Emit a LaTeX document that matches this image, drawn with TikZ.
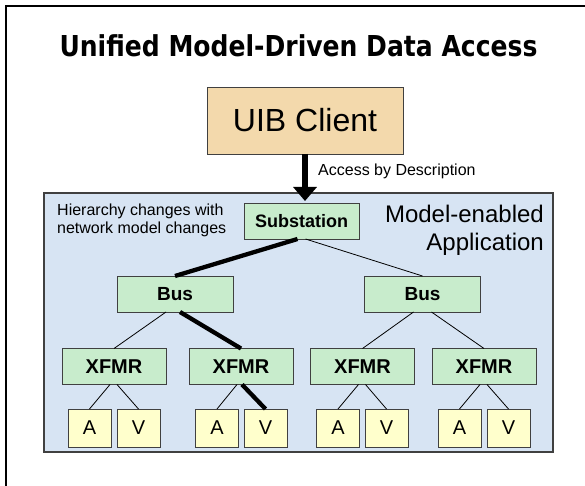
\documentclass[tikz,border=0pt]{standalone}
\usepackage{fontspec}
\usepackage{graphicx}
\setmainfont{Liberation Sans}
\newfontfamily\headfont{DejaVu Sans}
\usetikzlibrary{arrows.meta}

\definecolor{clientfill}{RGB}{243,217,172}
\definecolor{appfill}{RGB}{215,228,243}
\definecolor{nodefill}{RGB}{200,236,204}
\definecolor{leaffill}{RGB}{255,255,204}
\definecolor{edgegray}{RGB}{64,64,64}

\tikzset{
  frame/.style={line width=2.6pt, draw=black},
  box/.style={draw=edgegray, line width=0.9pt, inner sep=0pt, outer sep=0pt},
  clientbox/.style={box, fill=clientfill, minimum width=196pt, minimum height=67pt,
    font=\fontsize{32}{36}\selectfont},
  appbox/.style={box, line width=1.2pt, fill=appfill, minimum width=509pt, minimum height=259pt},
  gridbox/.style={box, fill=nodefill, minimum height=36pt, font=\bfseries},
  leafbox/.style={box, fill=leaffill, minimum width=43pt, minimum height=38pt,
    font=\fontsize{20}{24}\selectfont},
  thinlink/.style={draw=black, line width=0.8pt},
  thicklink/.style={draw=black, line width=4.3pt},
  note/.style={inner sep=0pt, font=\fontsize{16}{18}\selectfont},
  bignote/.style={inner sep=0pt, font=\fontsize{24}{28}\selectfont},
}

\begin{document}
\begin{tikzpicture}[x=1pt,y=-1pt]
\useasboundingbox (0,0) rectangle (585,486);
\clip (0,0) rectangle (585,486);

% slide frame
\draw[frame] (6,500) -- (6,6) -- (600,6);

% heading
\node[inner sep=0pt] (title) at (298.5,45.5)
  {\scalebox{0.87}[1]{\headfont\bfseries\fontsize{28.8}{32}\selectfont Unified Model-Driven Data Access}};

% client
\node[clientbox] (uib) at (305,120.5) {UIB Client};

% application area
\node[appbox] (app) at (298.5,322.5) {};

\node[note, anchor=base west] (hint1) at (57,215) {Hierarchy changes with};
\node[note, anchor=base west] (hint2) at (57,233) {network model changes};
\node[bignote, anchor=base east] (app1) at (544,222) {Model-enabled};
\node[bignote, anchor=base east] (app2) at (544,250) {Application};

% hierarchy
\node[gridbox, minimum width=115pt, font=\bfseries\fontsize{18}{20}\selectfont] (sub) at (301.5,221) {Substation};
\node[gridbox, minimum width=116pt, font=\bfseries\fontsize{19}{21}\selectfont] (busL) at (175,294) {Bus};
\node[gridbox, minimum width=116pt, font=\bfseries\fontsize{19}{21}\selectfont] (busR) at (422.5,294) {Bus};

\foreach \n/\x in {x1/114, x2/241, x3/362.5, x4/484}
  \node[gridbox, minimum width=104pt, font=\bfseries\fontsize{20}{22}\selectfont] (\n) at (\x,366.5) {XFMR};

\foreach \n/\x/\t in {a1/89.5/A, v1/138.5/V, a2/217/A, v2/265.5/V,
                      a3/338/A, v3/386.5/V, a4/459.5/A, v4/508.5/V}
  \node[leafbox] (\n) at (\x,428) {\t};

% links
\draw[thicklink] ([xshift=-4pt]sub.south) -- (busL.north);
\draw[thinlink]  ([xshift=4pt]sub.south) -- (busR.north);

\draw[thinlink]  ([xshift=-9pt]busL.south) -- (x1.north);
\draw[thicklink] ([xshift=5pt]busL.south) -- (x2.north);
\draw[thinlink]  ([xshift=-9pt]busR.south) -- (x3.north);
\draw[thinlink]  ([xshift=9pt]busR.south) -- (x4.north);

\draw[thinlink]  ([xshift=-4pt]x1.south) -- (a1.north);
\draw[thinlink]  ([xshift=3pt]x1.south) -- (v1.north);
\draw[thinlink]  ([xshift=-4pt]x2.south) -- (a2.north);
\draw[thicklink] ([xshift=1pt]x2.south) -- (v2.north);
\draw[thinlink]  ([xshift=-4pt]x3.south) -- (a3.north);
\draw[thinlink]  ([xshift=3pt]x3.south) -- (v3.north);
\draw[thinlink]  ([xshift=-4pt]x4.south) -- (a4.north);
\draw[thinlink]  ([xshift=3pt]x4.south) -- (v4.north);

% access path
\draw[line width=6.5pt, shorten >=2pt,
      -{Triangle[width=23pt,length=14pt]}] (uib.south) -- (uib.south |- sub.north);
\node[note, anchor=base west] (acc) at (318,176) {Access by Description};
\end{tikzpicture}
\end{document}
